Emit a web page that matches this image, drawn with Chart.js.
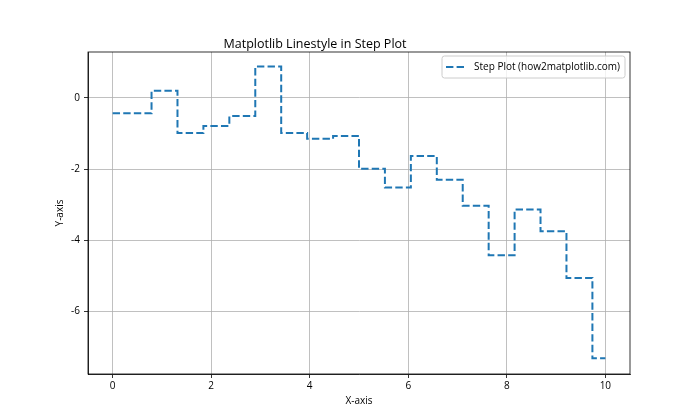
<!DOCTYPE html>
<html>
<head>
<meta charset="utf-8">
<script src="https://cdn.jsdelivr.net/npm/chart.js@4.4.0/dist/chart.umd.min.js"></script>
<style>
  html, body { margin: 0; padding: 0; background: #fff; }
  #wrap { width: 700px; height: 420px; }
</style>
</head>
<body>
<div id="wrap"><canvas id="chart" width="700" height="420"></canvas></div>
<script>
// data
var xValues = [0, 0.526, 1.053, 1.579, 2.105, 2.632, 3.158, 3.684, 4.211, 4.737,
               5.263, 5.789, 6.316, 6.842, 7.368, 7.895, 8.421, 8.947, 9.474, 10];
var yValues = [-0.43, -0.43, 0.20, -0.99, -0.79, -0.51, 0.88, -0.99, -1.15, -1.07,
               -1.99, -2.52, -1.63, -2.30, -3.03, -4.42, -3.14, -3.75, -5.06, -7.32];
var seriesLabel = 'Step Plot (how2matplotlib.com)';
var chartTitle = 'Matplotlib Linestyle in Step Plot';
var xTicks = [0, 2, 4, 6, 8, 10];
var yTicks = [-6, -4, -2, 0];

// style
var FONT = '"Open Sans", "DejaVu Sans", sans-serif';
var BLUE = '#1f77b4';
var DASH = [7.4, 3.2];

// points for the dataset
var points = xValues.map(function(x, i) {
    return {x: x, y: yValues[i]};
});

// frame round the plot area
var framePlugin = {
    id: 'frame',
    afterDatasetsDraw: function(chart) {
        var a = chart.chartArea, ctx = chart.ctx;
        ctx.save();
        ctx.strokeStyle = '#000';
        ctx.lineWidth = 0.8;
        ctx.strokeRect(a.left, a.top, a.right - a.left, a.bottom - a.top);
        ctx.restore();
    }
};

// legend box in the upper right corner
var legendPlugin = {
    id: 'boxLegend',
    afterDraw: function(chart) {
        var ctx = chart.ctx;
        var a = chart.chartArea;
        var right = a.right - 5, top = a.top + 4;
        var w = 183, h = 22;
        var left = right - w;
        ctx.save();
        ctx.beginPath();
        if (ctx.roundRect) ctx.roundRect(left, top, w, h, 2.5);
        else ctx.rect(left, top, w, h);
        ctx.fillStyle = 'rgba(255,255,255,0.8)';
        ctx.fill();
        ctx.strokeStyle = '#cccccc';
        ctx.lineWidth = 1;
        ctx.stroke();
        var cy = top + h / 2;
        ctx.beginPath();
        ctx.setLineDash(DASH);
        ctx.strokeStyle = BLUE;
        ctx.lineWidth = 2;
        ctx.moveTo(left + 4, cy);
        ctx.lineTo(left + 24, cy);
        ctx.stroke();
        ctx.setLineDash([]);
        ctx.fillStyle = '#000';
        ctx.font = '10px ' + FONT;
        ctx.textBaseline = 'middle';
        ctx.textAlign = 'left';
        ctx.fillText(seriesLabel, left + 32, cy);
        ctx.restore();
    }
};

function fixedTicks(list) {
    return function(scale) {
        scale.ticks = list.map(function(v) { return {value: v}; });
    };
}

new Chart(document.getElementById('chart'), {
    type: 'line',
    data: {
        datasets: [{
            label: seriesLabel,
            data: points,
            stepped: 'middle',
            borderColor: BLUE,
            borderWidth: 2,
            borderDash: DASH,
            borderCapStyle: 'butt',
            pointRadius: 0,
            fill: false
        }]
    },
    options: {
        responsive: false,
        animation: false,
        devicePixelRatio: 1,
        layout: { padding: { left: 0, right: 70, top: 0, bottom: 0 } },
        plugins: {
            legend: { display: false },
            tooltip: { enabled: false },
            title: {
                display: true,
                text: chartTitle,
                color: '#000',
                font: { family: FONT, size: 12.5, weight: 'normal' },
                padding: { top: 36.5, bottom: 0.5 }
            }
        },
        scales: {
            x: {
                type: 'linear',
                min: -0.5,
                max: 10.5,
                afterBuildTicks: fixedTicks(xTicks),
                afterFit: function(scale) { scale.height = 46; },
                ticks: { color: '#000', font: { family: FONT, size: 10 }, padding: 2, maxRotation: 0 },
                grid: { color: '#b0b0b0', lineWidth: 0.8, tickColor: '#000', tickLength: 4 },
                border: { color: '#000', width: 0.8 },
                title: { display: true, text: 'X-axis', color: '#000',
                         font: { family: FONT, size: 10 }, padding: { top: 0, bottom: 13 } }
            },
            y: {
                type: 'linear',
                min: -7.76,
                max: 1.29,
                afterBuildTicks: fixedTicks(yTicks),
                afterFit: function(scale) { scale.width = 88; },
                ticks: { color: '#000', font: { family: FONT, size: 10 }, padding: 4 },
                grid: { color: '#b0b0b0', lineWidth: 0.8, tickColor: '#000', tickLength: 4 },
                border: { color: '#000', width: 0.8 },
                title: { display: true, text: 'Y-axis', color: '#000',
                         font: { family: FONT, size: 10 }, padding: { top: 54, bottom: 0 } }
            }
        }
    },
    plugins: [framePlugin, legendPlugin]
});
</script>
</body>
</html>
